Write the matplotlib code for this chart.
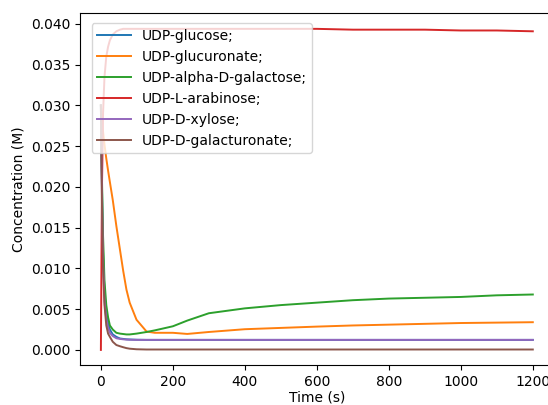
import numpy as np
import matplotlib
matplotlib.use("Agg")
import matplotlib.pyplot as plt

# time points (s)
time_s = [0, 3, 6, 10, 15, 20, 25, 33, 43, 53, 62, 71, 80, 99, 127, 150,
          200, 240, 300, 400, 500, 600, 700, 800, 900, 1000, 1100, 1200]

udp_glucose = [0.0300, 0.0200, 0.0120, 0.0070, 0.0045, 0.0032, 0.0025, 0.0019, 0.0016, 0.0014,
               0.00135, 0.0013, 0.00128, 0.00125, 0.00123, 0.00123,
               0.00123, 0.00123, 0.00123, 0.00123, 0.00123, 0.00123, 0.00123, 0.00123, 0.00123, 0.00123, 0.00123, 0.00123]
udp_glucuronate = [0.0300, 0.0285, 0.0268, 0.0252, 0.0235, 0.0220, 0.0206, 0.0184, 0.0152, 0.0123,
                   0.0097, 0.0074, 0.0058, 0.0037, 0.00225, 0.0021,
                   0.0021, 0.00196, 0.0022, 0.00254, 0.0027, 0.00286, 0.0030, 0.0031, 0.0032, 0.0033, 0.00335, 0.0034]
udp_galactose = [0.0300, 0.0210, 0.0140, 0.0085, 0.0055, 0.0040, 0.0030, 0.0025, 0.0021, 0.0020,
                 0.00195, 0.0019, 0.0019, 0.0020, 0.0022, 0.0024,
                 0.0029, 0.0036, 0.0045, 0.0051, 0.0055, 0.0058, 0.0061, 0.0063, 0.0064, 0.0065, 0.0067, 0.0068]
udp_arabinose = [0.0000, 0.0200, 0.0290, 0.0335, 0.0360, 0.0372, 0.0380, 0.0387, 0.0391, 0.0393,
                 0.0394, 0.0394, 0.0394, 0.0394, 0.0394, 0.0394,
                 0.0394, 0.0394, 0.0394, 0.0394, 0.0394, 0.0394, 0.0393, 0.0393, 0.0393, 0.0392, 0.0392, 0.0391]
udp_xylose = [0.0300, 0.0190, 0.0110, 0.0060, 0.0038, 0.0027, 0.0021, 0.0017, 0.00143, 0.00135,
              0.0013, 0.00127, 0.00125, 0.00123, 0.00123, 0.00123,
              0.00123, 0.00123, 0.00123, 0.00123, 0.00123, 0.00123, 0.00123, 0.00123, 0.00123, 0.00123, 0.00123, 0.00123]
udp_galacturonate = [0.0300, 0.0180, 0.0100, 0.0055, 0.0030, 0.0020, 0.0016, 0.0010, 0.0006, 0.00045,
                     0.00033, 0.00022, 0.00015, 0.00008, 0.00005, 0.00005,
                     0.00005, 0.00005, 0.00005, 0.00005, 0.00005, 0.00005, 0.00005, 0.00005, 0.00005, 0.00005, 0.00005, 0.00005]

series = [
    ("UDP-glucose;", udp_glucose),
    ("UDP-glucuronate;", udp_glucuronate),
    ("UDP-alpha-D-galactose;", udp_galactose),
    ("UDP-L-arabinose;", udp_arabinose),
    ("UDP-D-xylose;", udp_xylose),
    ("UDP-D-galacturonate;", udp_galacturonate),
]

plt.rcParams["font.size"] = 10

fig = plt.figure(figsize=(5.48, 4.05), dpi=100)
# the original is cropped on the right, so the axes run past the figure edge
ax = fig.add_axes([0.146, 0.099, 0.867, 0.869])

for label, vals in series:
    ax.plot(time_s, vals, label=label, linewidth=1.4)

ax.set_xlim(-58, 1262)
ax.set_ylim(-0.00184, 0.04135)
ax.set_xlabel("Time (s)", labelpad=1)
ax.set_ylabel("Concentration (M)")
ax.set_xticks([0, 200, 400, 600, 800, 1000, 1200])
ax.set_yticks(np.arange(0, 0.0401, 0.005))
ax.yaxis.set_major_formatter(matplotlib.ticker.FormatStrFormatter("%.3f"))
ax.legend(loc="upper left", bbox_to_anchor=(0.01, 0.99), handlelength=2.4)

fig.savefig("out.png", dpi=100)
